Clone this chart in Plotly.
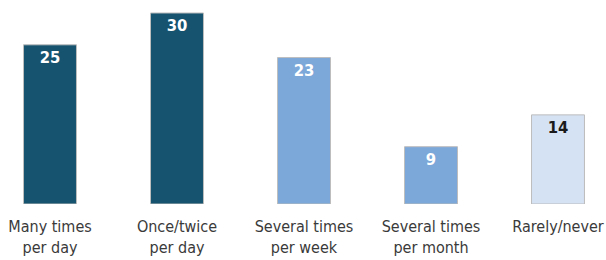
import plotly.graph_objects as go

categories = ["Many times<br>per day", "Once/twice<br>per day", "Several times<br>per week",
              "Several times<br>per month", "Rarely/never"]
values = [25, 30, 23, 9, 14]
bar_colors = ["#15536F", "#15536F", "#7BA7D9", "#7BA7D9", "#D5E2F3"]
label_colors = ["white", "white", "white", "white", "#1a1a1a"]

FONT = "DejaVu Sans Condensed, Liberation Sans Narrow, Roboto, sans-serif"

fig = go.Figure(go.Bar(
    x=list(range(len(categories))),
    y=values,
    width=0.417,
    marker=dict(color=bar_colors, line=dict(color="#BDBDBD", width=1)),
    text=[str(v) for v in values],
    textposition="inside",
    insidetextanchor="end",
    constraintext="none",
    textangle=0,
    textfont=dict(family=FONT, size=16.5, color=label_colors, weight="bold"),
    hoverinfo="skip",
))

fig.update_layout(
    width=606, height=260,
    margin=dict(l=0, r=0, t=0, b=56, autoexpand=False),
    paper_bgcolor="white", plot_bgcolor="white",
    showlegend=False,
    xaxis=dict(
        tickmode="array",
        tickvals=list(range(len(categories))),
        ticktext=categories,
        range=[-50 / 127, (606 - 50) / 127],
        automargin=False,
        ticklabelstandoff=11,
        showgrid=False, zeroline=False, showline=False, ticks="",
        tickfont=dict(family=FONT, size=16, color="#3A3A3A"),
    ),
    yaxis=dict(range=[0, 204 / 6.367], visible=False, showgrid=False, zeroline=False,
               automargin=False),
)

fig.write_html("out.html", config={"displayModeBar": False},
               post_script="document.body.style.margin='0';")
